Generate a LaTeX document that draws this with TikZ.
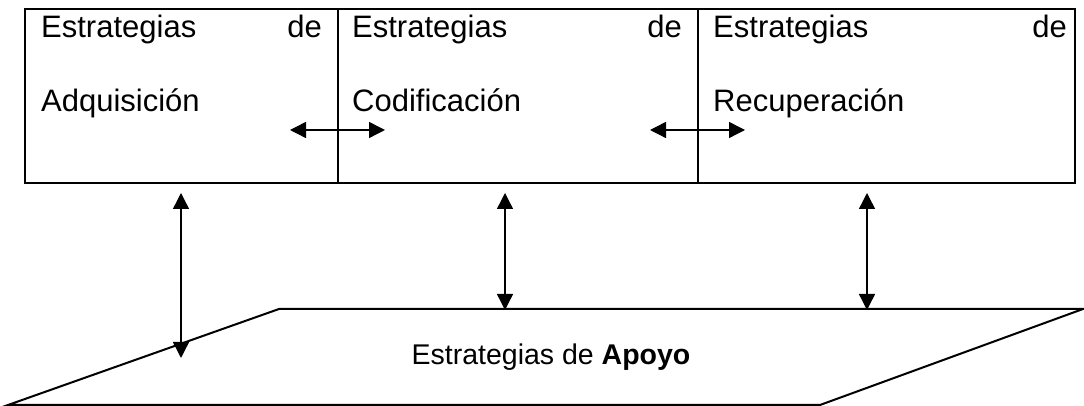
\documentclass[tikz,border=0pt]{standalone}
\usepackage{fontspec}
\setmainfont{Liberation Sans}
\usetikzlibrary{positioning,arrows.meta}

\begin{document}
\begin{tikzpicture}[x=1pt,y=1pt,
                    stratbox/.style={rectangle, draw=black, line width=2pt, inner sep=0pt, outer sep=0pt, minimum height=174pt},
                    boxtext/.style={inner sep=0pt, font=\fontsize{31}{37}\selectfont},
                    twoway/.style={{Triangle[length=16pt,width=16pt]}-{Triangle[length=16pt,width=16pt]}, line width=1.4pt}]
    \useasboundingbox (0,0) rectangle (1084,406);
    % boxes
    \node[stratbox, minimum width=313pt]      (adq) at (181.5,310)      {};
    \node[stratbox, minimum width=360pt]      (cod) [right=0pt of adq]  {};
    \node[stratbox, minimum width=377pt]      (rec) [right=0pt of cod]  {};
    % texts
    \node[boxtext, anchor=base west] (adqA) at (41,368)   {Estrategias};
    \node[boxtext, anchor=base east] (adqB) at (322,368)  {de};
    \node[boxtext, anchor=base west] (adqC) at (41,294)   {Adquisición};
    \node[boxtext, anchor=base west] (codA) at (352,368)  {Estrategias};
    \node[boxtext, anchor=base east] (codB) at (682,368)  {de};
    \node[boxtext, anchor=base west] (codC) at (352,294)  {Codificación};
    \node[boxtext, anchor=base west] (recA) at (713,368)  {Estrategias};
    \node[boxtext, anchor=base east] (recB) at (1067,368) {de};
    \node[boxtext, anchor=base west] (recC) at (713,294)  {Recuperación};
    % apoyo
    \coordinate (p1) at (8,1);
    \coordinate (p2) at (279,97);
    \coordinate (p3) at (1083,97);
    \coordinate (p4) at (820,1);
    \draw[line width=2pt, line join=miter] (p1) -- (p2) -- (p3) -- (p4) -- cycle;
    \node[inner sep=0pt, anchor=base, font=\fontsize{28.5}{34}\selectfont] (apoyo) at (551,41) {Estrategias de \textbf{Apoyo}};
    % arrow ends
    \coordinate (h1a) at (290,276);
    \coordinate (h1b) at (385,276);
    \coordinate (h2a) at (650,276);
    \coordinate (h2b) at (745,276);
    \coordinate (v1a) at (181,213);
    \coordinate (v1b) at (181,48);
    \coordinate (v2a) at (505,213);
    \coordinate (v2b) at (505,96);
    \coordinate (v3a) at (867,213);
    \coordinate (v3b) at (867,96);
    % lines
    \draw[twoway] (h1a) -- (h1b);
    \draw[twoway] (h2a) -- (h2b);
    \draw[twoway] (v1a) -- (v1b);
    \draw[twoway] (v2a) -- (v2b);
    \draw[twoway] (v3a) -- (v3b);
\end{tikzpicture}
\end{document}
